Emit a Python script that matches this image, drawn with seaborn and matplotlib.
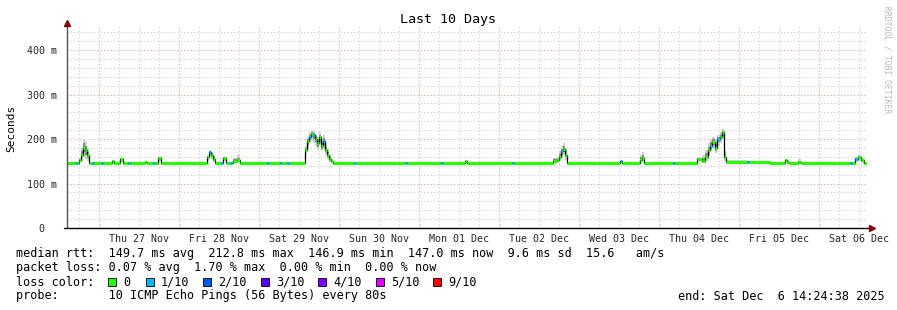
import matplotlib
matplotlib.use('Agg')
import matplotlib.pyplot as plt
from matplotlib.patches import Rectangle
import numpy as np
import seaborn as sns

W, H = 897, 310

# hours since start (Wed 26 Nov 14:24:38), median rtt in ms, smoke range, loss level index
hours = [0.0, 2.4, 3.0, 3.6, 4.2, 4.8, 5.4, 6.0, 6.6, 7.5, 8.1, 10.2, 10.8, 13.5, 14.1,
         15.9, 16.8, 18.3, 18.9, 23.4, 24.0, 25.8, 26.4, 27.3, 28.2,
         42.0, 42.6, 43.2, 43.8, 44.4, 46.2, 46.8, 47.7, 48.9, 49.5, 49.8, 51.0, 51.9,
         60.0, 60.6, 63.9, 64.5, 66.0, 66.6,
         71.4, 72.0, 72.6, 73.2, 73.8, 74.4, 75.0, 75.6, 76.2, 76.8, 77.4, 78.0, 78.6, 79.2, 79.8,
         86.1, 86.7, 101.4, 102.0, 112.2, 112.8, 119.4, 120.0, 133.5, 134.1,
         145.8, 147.0, 147.6, 148.2, 148.8, 149.4, 150.0,
         165.9, 166.5, 171.9, 172.5, 173.1, 181.8, 182.4,
         189.0, 190.5, 191.4, 192.3, 192.9, 193.5, 194.4, 195.0, 195.9, 196.5, 197.1, 197.7,
         204.0, 204.6, 210.9, 215.4, 216.0, 216.6, 219.3, 220.2,
         234.9, 235.5, 236.4, 237.3, 238.2, 239.1]
median = [147, 147, 147, 152, 165, 180, 175, 163, 147, 147, 147, 147, 147, 150, 147,
          156, 147, 147, 147, 149, 147, 147, 147, 157, 147,
          160, 171, 165, 155, 147, 147, 157, 147, 147, 147, 150, 152, 147,
          147, 147, 147, 147, 147, 147,
          175, 195, 205, 212, 208, 200, 190, 205, 185, 195, 175, 165, 155, 150, 147,
          147, 147, 147, 147, 147, 147, 150, 147, 147, 147,
          150, 152, 160, 172, 178, 165, 147,
          150, 147, 152, 158, 147, 147, 147,
          155, 150, 160, 175, 185, 193, 180, 200, 205, 216, 160, 149,
          149, 149, 147, 152, 149, 147, 149, 147,
          147, 147, 155, 160, 153, 147]
smoke_lo = [146, 146, 146, 148, 150, 160, 155, 150, 146, 146, 146, 146, 146, 147, 146,
            148, 146, 146, 146, 147, 146, 146, 146, 150, 146,
            150, 160, 155, 148, 146, 146, 150, 146, 146, 146, 147, 148, 146,
            146, 146, 146, 146, 146, 146,
            165, 180, 190, 195, 192, 185, 175, 188, 172, 180, 165, 155, 148, 147, 146,
            146, 146, 146, 146, 146, 146, 147, 146, 146, 146,
            147, 148, 150, 158, 165, 152, 146,
            147, 146, 147, 150, 146, 146, 146,
            150, 147, 150, 162, 172, 180, 168, 185, 190, 200, 150, 147,
            147, 147, 146, 148, 147, 146, 147, 146,
            146, 146, 148, 150, 147, 146]
smoke_hi = [148, 148, 148, 158, 180, 200, 195, 180, 148, 148, 148, 148, 148, 152, 148,
            158, 148, 148, 148, 151, 148, 148, 148, 160, 148,
            165, 175, 170, 162, 148, 148, 160, 148, 148, 148, 158, 164, 148,
            148, 148, 148, 148, 148, 148,
            185, 205, 215, 220, 218, 212, 205, 215, 200, 208, 190, 178, 165, 156, 148,
            148, 148, 148, 148, 148, 148, 153, 148, 148, 148,
            158, 160, 172, 185, 190, 180, 148,
            153, 148, 165, 170, 148, 148, 148,
            160, 165, 175, 190, 200, 205, 200, 210, 215, 222, 175, 152,
            151, 151, 148, 156, 152, 148, 154, 148,
            148, 148, 160, 165, 158, 148]
loss = [0, 1, 0, 0, 0, 0, 0, 0, 0, 1, 0, 1, 0, 0, 0,
        0, 0, 1, 0, 0, 0, 1, 0, 0, 0,
        0, 1, 0, 0, 0, 1, 0, 0, 1, 0, 0, 0, 0,
        1, 0, 1, 0, 1, 0,
        0, 0, 1, 0, 1, 0, 0, 0, 0, 1, 0, 0, 0, 0, 0,
        1, 0, 1, 0, 1, 0, 0, 0, 1, 0,
        0, 0, 0, 1, 0, 0, 0,
        1, 0, 0, 0, 0, 1, 0,
        0, 0, 0, 0, 1, 0, 0, 1, 0, 0, 0, 0,
        1, 0, 0, 0, 0, 0, 0, 0,
        1, 0, 1, 0, 0, 0]
end_hour = 240.0

loss_labels = ['0', '1/10', '2/10', '3/10', '4/10', '5/10', '9/10']
loss_colors = ['#26ff00', '#00b8ff', '#0059ff', '#5e00ff', '#7e00ff', '#dd00ff', '#ff0000']

day_labels = ['Thu 27 Nov', 'Fri 28 Nov', 'Sat 29 Nov', 'Sun 30 Nov', 'Mon 01 Dec',
              'Tue 02 Dec', 'Wed 03 Dec', 'Thu 04 Dec', 'Fri 05 Dec', 'Sat 06 Dec']
first_midnight = 9.6  # hours from start to Thu 27 Nov 00:00
y_ticks = [0, 100, 200, 300, 400]
y_labels = ['0  ', '100 m', '200 m', '300 m', '400 m']

sns.set_theme(style='white')
plt.rcParams['font.family'] = ['DejaVu Sans Mono']

fig = plt.figure(figsize=(W / 100, H / 100), dpi=100)
fig.patch.set_facecolor('white')
ax = fig.add_axes([67 / W, 1 - 228 / H, 800 / W, 202 / H])
ax.set_facecolor('white')
ax.set_xlim(0, end_hour)
ax.set_ylim(0, 454)

# grid
dot = (0, (1, 2))
for hx in np.arange(first_midnight - 6, end_hour, 6):
    major = abs((hx - first_midnight) % 24) < 1e-6
    ax.axvline(hx, color='#e8a0a0' if major else '#cccccc', lw=0.8, ls=dot, zorder=0)
for yv in range(20, 455, 20):
    major = yv % 100 == 0
    ax.axhline(yv, color='#e8a0a0' if major else '#cccccc', lw=0.8, ls=dot, zorder=0)

hx_ext = hours + [end_hour]
med_ext = median + [median[-1]]
lo_ext = smoke_lo + [smoke_lo[-1]]
hi_ext = smoke_hi + [smoke_hi[-1]]
mid_lo = [(a + b) / 2 for a, b in zip(lo_ext, med_ext)]
mid_hi = [(a + b) / 2 for a, b in zip(hi_ext, med_ext)]

ax.fill_between(hx_ext, lo_ext, hi_ext, step='post', color='#cfcfcf', lw=0, zorder=1)
ax.fill_between(hx_ext, mid_lo, mid_hi, step='post', color='#8a8a8a', lw=0, zorder=1)

sns.lineplot(x=hx_ext, y=med_ext, drawstyle='steps-post', color='black', lw=0.9,
             estimator=None, ax=ax, zorder=2)
ax.hlines(median, hours, hx_ext[1:], colors=[loss_colors[l] for l in loss], lw=2.2, zorder=3)

# ticks
ax.set_yticks(y_ticks)
ax.set_yticklabels(y_labels)
ax.set_xticks([first_midnight + 12 + 24 * i for i in range(len(day_labels))])
ax.set_xticklabels(day_labels)
ax.tick_params(axis='y', length=3, width=0.8, color='#555555', pad=4, labelsize=7.2)
ax.tick_params(axis='x', length=0, pad=4, labelsize=7.2)
ax.set_xlabel('')
ax.set_ylabel('')
for s in ax.spines.values():
    s.set_visible(False)

# axes lines with arrows
ax.plot([0, 0], [0, 1.01], transform=ax.transAxes, color='#555555', lw=1, clip_on=False, zorder=4)
ax.plot([-0.004, 1.004], [0, 0], transform=ax.transAxes, color='black', lw=1, clip_on=False, zorder=4)
ax.plot([0], [1.015], transform=ax.transAxes, marker='^', ms=4, color='#800000', clip_on=False, zorder=5)
ax.plot([1.006], [0], transform=ax.transAxes, marker='>', ms=4, color='#800000', clip_on=False, zorder=5)


def ftext(x, y, s, **kw):
    kw.setdefault('fontsize', 8.5)
    kw.setdefault('va', 'center')
    kw.setdefault('color', 'black')
    fig.text(x / W, 1 - y / H, s, **kw)


ftext(448, 19, 'Last 10 Days', ha='center', fontsize=9.6)
ftext(11, 128, 'Seconds', ha='center', rotation=90, fontsize=8)
ftext(887, 60, 'RRDTOOL / TOBI OETIKER', ha='center', rotation=270, fontsize=5.8, color='#b8b8b8')

ftext(16, 254, 'median rtt:  149.7 ms avg  212.8 ms max  146.9 ms min  147.0 ms now  9.6 ms sd  15.6   am/s')
ftext(16, 268, 'packet loss: 0.07 % avg  1.70 % max  0.00 % min  0.00 % now')
ftext(16, 282, 'loss color:')
sq_x = [108, 146, 203, 261, 318, 376, 433]
for x0, lab, col in zip(sq_x, loss_labels, loss_colors):
    fig.patches.append(Rectangle((x0 / W, 1 - 286 / H), 8 / W, 8 / H, transform=fig.transFigure,
                                 facecolor=col, edgecolor='black', lw=0.6, figure=fig))
    ftext(x0 + 15, 282, lab)
ftext(16, 296, 'probe:       10 ICMP Echo Pings (56 Bytes) every 80s')
ftext(678, 296, 'end: Sat Dec  6 14:24:38 2025')

fig.savefig('out.png', dpi=100, facecolor='white')
